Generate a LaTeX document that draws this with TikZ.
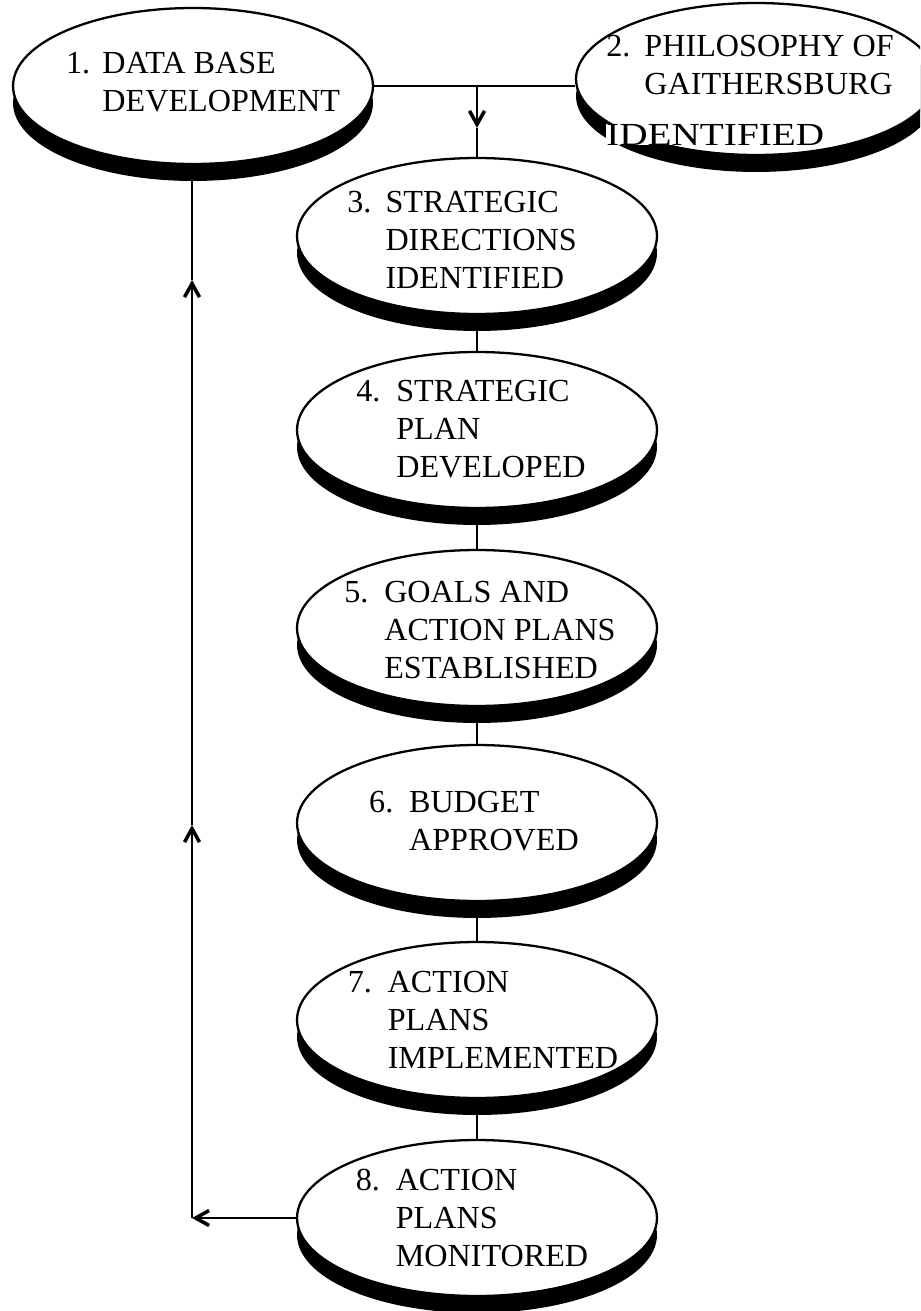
\documentclass[tikz,border=0pt]{standalone}
\usepackage{graphicx}
\usepackage{fontspec}
\setmainfont{Liberation Serif}
\usetikzlibrary{shapes.geometric,shadows,arrows.meta}

\begin{document}
\begin{tikzpicture}[x=0.02cm,y=-0.02cm,
  stage/.style={ellipse,draw,line width=1.3pt,fill=white,
    minimum width=7.2cm,minimum height=3.12cm,
    drop shadow={shadow xshift=0pt,shadow yshift=-0.34cm,fill=black,opacity=1}},
  lbl/.style={inner sep=0pt,font=\fontsize{18.3}{21.6}\selectfont},
  link/.style={line width=1.4pt},
  tip/.style={link,-{Straight Barb[length=0.27cm,width=0.3cm,line width=2pt]}}]
\useasboundingbox (0,0) rectangle (920,1311);
\clip (0,0) rectangle (920,1311);

% the stages
\node[stage] (e1) at (193,86) {};
\node[stage,minimum height=3.04cm] (e2) at (756,79) {};
\node[stage] (e3) at (477,236) {};
\node[stage] (e4) at (477,430) {};
\node[stage] (e5) at (477,628) {};
\node[stage] (e6) at (477,823) {};
\node[stage] (e7) at (477,1020) {};
\node[stage] (e8) at (477,1218) {};

% connectors
\draw[link] (e1.east) -- (e1.east -| e2.west);
\coordinate (jn) at (e3.north |- e1.east);
\coordinate (dn) at (477,128);
\draw[tip] (jn) -- (dn);
\draw[link] (dn) -- (e3.north);
\foreach \a/\b in {3/4,4/5,5/6,6/7,7/8}
  \draw[link] (e\a.south) -- (e\b.north);

\coordinate (fb) at (192,1218);
\coordinate (up1) at (192,825);
\coordinate (up2) at (192,280);
\draw[tip] (e8.west) -- (fb);
\draw[tip] (fb) -- (up1);
\draw[tip] (up1) -- (up2);
\draw[link] (up2) -- (up2 |- e1.south);

% texts
\node[lbl] (t1) at (203,85) {\begin{tabular}{@{}l@{\hspace{7pt}}l@{}}1. & DATA BASE\\ & DEVELOPMENT\end{tabular}};
\node[lbl] (t2) at (750,93) {\begin{tabular}{@{}l@{\hspace{8pt}}l@{}}2. & PHILOSOPHY OF\\ & GAITHERSBURG\\[0.26cm] \multicolumn{2}{@{}l@{}}{\setlength{\fboxsep}{0pt}\colorbox{white}{\scalebox{1.22}[1]{IDENTIFIED}}}\end{tabular}};
\node[lbl] (t3) at (462,243) {\begin{tabular}{@{}l@{\hspace{8pt}}l@{}}3. & STRATEGIC\\ & DIRECTIONS\\ & IDENTIFIED\end{tabular}};
\node[lbl] (t4) at (471,432) {\begin{tabular}{@{}l@{\hspace{9pt}}l@{}}4. & STRATEGIC\\ & PLAN\\ & DEVELOPED\end{tabular}};
\node[lbl] (t5) at (480,633) {\begin{tabular}{@{}l@{\hspace{9pt}}l@{}}5. & GOALS AND\\ & ACTION PLANS\\ & ESTABLISHED\end{tabular}};
\node[lbl] (t6) at (474,824) {\begin{tabular}{@{}l@{\hspace{9pt}}l@{}}6. & BUDGET\\ & APPROVED\end{tabular}};
\node[lbl] (t7) at (483,1023) {\begin{tabular}{@{}l@{\hspace{9pt}}l@{}}7. & ACTION\\ & PLANS\\ & IMPLEMENTED\end{tabular}};
\node[lbl] (t8) at (472,1221) {\begin{tabular}{@{}l@{\hspace{9pt}}l@{}}8. & ACTION\\ & PLANS\\ & MONITORED\end{tabular}};

\end{tikzpicture}
\end{document}
